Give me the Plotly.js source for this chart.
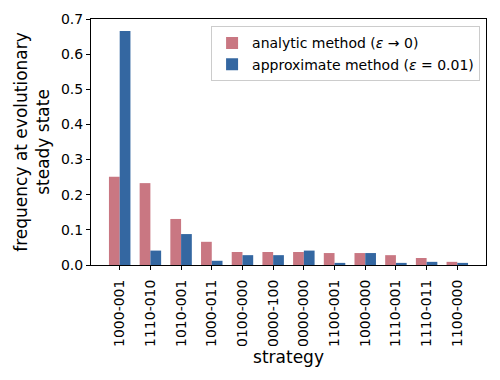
<!DOCTYPE html>
<html>
<head>
<meta charset="utf-8">
<script src="https://cdn.plot.ly/plotly-3.0.1.min.js"></script>
<style>body{margin:0;padding:0;background:#fff;}#chart{width:500px;height:380px;}</style>
</head>
<body>
<div id="chart"></div>
<script>
const strategies = ["1000-001","1110-010","1010-001","1000-011","0100-000","0000-100","0000-000","1100-001","1000-000","1110-001","1110-011","1100-000"];
const analytic = [0.251,0.233,0.131,0.066,0.037,0.037,0.037,0.034,0.034,0.028,0.020,0.009];
const approximate = [0.666,0.041,0.088,0.012,0.028,0.028,0.041,0.006,0.034,0.006,0.009,0.006];
const seriesNames = ["analytic method (<i>ε</i> → 0)","approximate method (<i>ε</i> = 0.01)"];

const font = {family:"DejaVu Sans, sans-serif", size:14, color:"#000"};
const traces = [
  {type:"bar", x:strategies, y:analytic, name:seriesNames[0], marker:{color:"#c97782"}},
  {type:"bar", x:strategies, y:approximate, name:seriesNames[1], marker:{color:"#3467a1"}}
];
const layout = {
  width:500, height:380,
  margin:{l:91, r:14, t:19, b:115},
  paper_bgcolor:"#fff", plot_bgcolor:"#fff",
  font:font,
  barmode:"group", bargap:0.3, bargroupgap:0,
  showlegend:true,
  legend:{x:0.985, y:0.97, xanchor:"right", yanchor:"top", bgcolor:"rgba(255,255,255,0.8)", bordercolor:"#cccccc", borderwidth:1, font:{family:"DejaVu Sans, sans-serif", size:14}, tracegroupgap:4},
  xaxis:{
    type:"category", range:[-0.935, 11.935],
    showline:true, linecolor:"#000", linewidth:1, mirror:true,
    ticks:"outside", ticklen:4, tickcolor:"#000", tickangle:-90, ticklabelstandoff:4,
    showgrid:false, zeroline:false,
    tickfont:{family:"DejaVu Sans, sans-serif", size:14},
    title:{text:"strategy", font:{family:"DejaVu Sans, sans-serif", size:17}, standoff:2}
  },
  yaxis:{
    range:[0,0.7], dtick:0.1, tickformat:".1f",
    showline:true, linecolor:"#000", linewidth:1, mirror:true,
    ticks:"outside", ticklen:4, tickcolor:"#000",
    showgrid:false, zeroline:false,
    tickfont:{family:"DejaVu Sans, sans-serif", size:14},
    title:{text:"frequency at evolutionary<br>steady state", font:{family:"DejaVu Sans, sans-serif", size:17}, standoff:6}
  }
};
Plotly.newPlot("chart", traces, layout, {displayModeBar:false, staticPlot:true});
</script>
</body>
</html>
